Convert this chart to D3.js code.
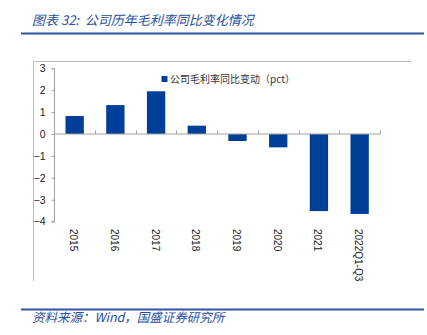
<!DOCTYPE html>
<html><head><meta charset="utf-8">
<script src="https://cdn.jsdelivr.net/npm/d3@7"></script>
<style>body{margin:0;background:#fff}svg{display:block}</style>
</head><body>
<script>
const categories = ["2015","2016","2017","2018","2019","2020","2021","2022Q1-Q3"];
const values = [0.82, 1.32, 1.95, 0.38, -0.32, -0.61, -3.52, -3.65];
const yTicks = [3,2,1,0,-1,-2,-3,-4];
const seriesName = "公司毛利率同比变动（pct）";
const titleText = "图表 32:\u00a0\u00a0公司历年毛利率同比变化情况";
const sourceText = "资料来源：Wind，国盛证券研究所";

const W = 427, H = 335;
const svg = d3.select("body").append("svg").attr("width", W).attr("height", H);
const cjk = "'Noto Sans CJK SC', 'Liberation Sans', sans-serif";
const blue = "#1f4e9c";
const barColor = "#003f97";

// title
svg.append("text").attr("x", 32).attr("y", 24.5).text(titleText)
  .attr("font-family", cjk).attr("font-size", 13).attr("font-style", "italic")
  .attr("fill", blue);
svg.append("line").attr("x1", 21).attr("x2", 424).attr("y1", 33.5).attr("y2", 33.5)
  .attr("stroke", "#2a56a3").attr("stroke-width", 2);

// chart frame (top & left)
svg.append("line").attr("x1", 33).attr("x2", 411).attr("y1", 61.5).attr("y2", 61.5).attr("stroke", "#c0c0c0");
svg.append("line").attr("x1", 33.5).attr("x2", 33.5).attr("y1", 61).attr("y2", 281).attr("stroke", "#c0c0c0");

const x = d3.scaleBand().domain(categories).range([54.3, 380]).paddingInner(0.55).paddingOuter(0.275);
const y = d3.scaleLinear().domain([-4, 3]).range([221.6, 68.3]);

// bars
svg.append("g").selectAll("rect").data(values).join("rect")
  .attr("x", (d,i) => x(categories[i]))
  .attr("width", x.bandwidth())
  .attr("y", d => y(Math.max(0, d)))
  .attr("height", d => Math.abs(y(d) - y(0)))
  .attr("fill", barColor);

// y axis
const yAxis = svg.append("g").attr("transform", "translate(54.5,0)")
  .call(d3.axisLeft(y).tickValues(yTicks).tickSize(3).tickPadding(6).tickFormat(d3.format("d")));
yAxis.select(".domain").attr("stroke", "#a0a0a0").attr("d", `M-3,${y(3)}H0V${y(-4)}H-3`);
yAxis.selectAll(".tick line").attr("stroke", "#a0a0a0");
yAxis.selectAll("text").attr("font-family", "'Liberation Sans', Arial, sans-serif").attr("font-size", 10.5).attr("fill", "#222");

// zero axis with upward ticks at band boundaries
const step = x.step();
const x0 = 54.3;
const bounds = d3.range(1, categories.length + 1).map(i => x0 + i * step);
svg.append("line").attr("x1", 54).attr("x2", 380.5).attr("y1", y(0)).attr("y2", y(0)).attr("stroke", "#a0a0a0");
svg.append("g").selectAll("line").data(bounds).join("line")
  .attr("x1", d => Math.round(d) + 0.5).attr("x2", d => Math.round(d) + 0.5)
  .attr("y1", y(0) - 3.5).attr("y2", y(0)).attr("stroke", "#a0a0a0");

// category labels (rotated)
svg.append("g").selectAll("text").data(categories).join("text")
  .attr("transform", d => `translate(${x(d) + x.bandwidth()/2 - 1},229) rotate(90)`)
  .attr("dy", "0.35em").attr("text-anchor", "start")
  .attr("font-family", "'Liberation Sans', Arial, sans-serif").attr("font-size", 10).attr("fill", "#222")
  .text(d => d);

// legend
svg.append("rect").attr("x", 161.5).attr("y", 76).attr("width", 6).attr("height", 6).attr("fill", barColor);
svg.append("text").attr("x", 170).attr("y", 82.5).text(seriesName)
  .attr("font-family", cjk).attr("font-size", 10).attr("fill", "#333");

// footer
svg.append("line").attr("x1", 21).attr("x2", 424).attr("y1", 309.5).attr("y2", 309.5)
  .attr("stroke", "#2a56a3").attr("stroke-width", 2);
svg.append("text").attr("x", 32).attr("y", 322).text(sourceText)
  .attr("font-family", cjk).attr("font-size", 12.5).attr("font-style", "italic").attr("fill", blue);
</script>
</body></html>
